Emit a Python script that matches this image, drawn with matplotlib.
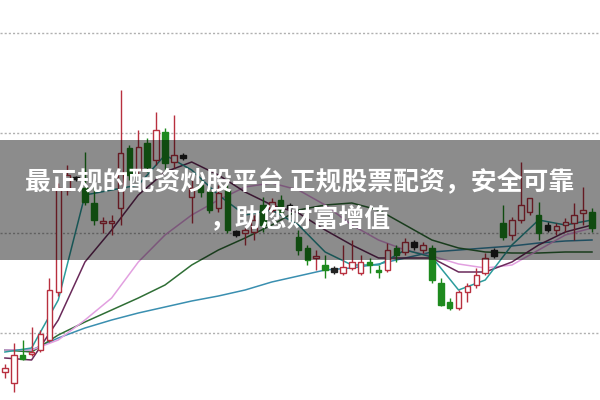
import matplotlib.pyplot as plt
import matplotlib.patches as mpatches

plt.rcParams['font.family'] = ['Noto Sans CJK SC', 'DejaVu Sans']

# K线数据 (开, 收, 高, 低)
opens = [2.8, 1.7, 4.5, 4.6, 5.0, 6.0, 10.8, 21.0, 22.1, 21.2, 19.7, 17.7, 17.7, 19.2,
         25.2, 23.0, 25.7, 24.0, 26.8, 23.8, 24.5, 20.3, 21.5, 20.8, 19.2, 21.0, 16.9,
         16.7, 16.8, 19.5, 19.0, 20.0, 19.5, 16.3, 15.2, 14.2, 13.5, 13.2, 12.7, 13.2,
         12.7, 13.8, 13.0, 13.0, 15.2, 14.8, 15.8, 15.0, 15.2, 11.7, 9.8, 9.2, 10.8,
         11.5, 12.7, 15.0, 17.7, 16.5, 18.0, 18.8, 18.5, 17.5, 17.0, 17.5, 17.7, 18.7, 18.8]
closes = [3.2, 4.5, 4.1, 4.8, 6.6, 11.0, 21.2, 22.5, 22.2, 19.8, 18.0, 17.9, 17.9, 24.7,
          22.5, 25.3, 23.3, 27.0, 23.7, 24.5, 24.2, 21.2, 20.8, 19.0, 20.7, 17.0, 16.5,
          17.0, 18.0, 17.5, 19.8, 18.8, 19.2, 15.0, 14.0, 14.4, 13.0, 12.8, 13.3, 13.8,
          13.8, 13.5, 12.8, 15.0, 14.5, 15.8, 15.3, 15.5, 12.0, 9.5, 9.2, 10.8, 11.4,
          12.5, 14.2, 14.4, 16.3, 18.0, 19.5, 20.2, 16.7, 17.0, 17.4, 17.8, 18.5, 19.0, 17.2]
highs = [3.6, 5.7, 6.0, 7.3, 7.0, 12.2, 21.7, 23.5, 22.4, 24.8, 21.5, 18.3, 18.5, 31.0,
         25.5, 27.0, 26.2, 28.8, 27.2, 28.5, 24.7, 22.0, 22.0, 21.5, 21.5, 21.5, 17.0,
         17.2, 18.5, 20.3, 20.2, 20.5, 19.7, 17.0, 15.5, 15.0, 14.5, 13.4, 15.5, 16.0,
         14.5, 14.2, 13.5, 15.7, 15.5, 16.2, 16.0, 15.8, 15.5, 12.2, 10.2, 11.0, 11.7,
         13.2, 14.7, 15.2, 19.5, 18.3, 23.8, 20.2, 19.8, 17.8, 17.7, 18.2, 19.7, 21.3, 19.2]
lows = [2.2, 0.8, 4.0, 4.4, 4.8, 5.8, 10.4, 20.5, 21.9, 19.5, 17.5, 16.7, 16.5, 17.5,
        22.0, 22.5, 22.8, 23.5, 23.0, 23.2, 24.0, 17.7, 20.3, 18.7, 18.8, 16.7, 16.3,
        15.5, 16.0, 16.8, 18.5, 18.5, 19.0, 14.5, 13.5, 13.0, 12.2, 12.6, 12.5, 13.0,
        12.5, 12.7, 12.2, 12.8, 13.8, 14.5, 15.0, 14.7, 11.7, 9.4, 9.0, 9.0, 9.8,
        11.2, 12.5, 14.2, 16.0, 16.0, 17.7, 18.5, 16.0, 16.8, 16.5, 16.8, 16.0, 17.5, 16.8]
dark_idx = [8, 20, 26, 32, 37, 46, 55, 61]

# 均线 (每3根K线取一点)
ma_x = list(range(0, 67, 3))
ma5 = [4.8, 5.2, 10.0, 20.5, 21.0, 21.5, 24.5, 23.0, 20.5, 18.5, 19.0, 17.5, 14.8, 13.5,
       13.5, 15.0, 14.3, 11.0, 12.0, 15.5, 18.0, 17.5, 18.0]
ma10 = [4.2, 4.0, 8.0, 13.8, 17.0, 20.5, 22.8, 23.8, 22.5, 20.8, 19.5, 18.7, 17.0, 15.5,
        14.2, 14.2, 14.2, 12.8, 12.8, 13.8, 15.5, 16.8, 17.5]
ma20 = [5.0, 5.0, 6.0, 8.0, 10.2, 13.8, 16.5, 18.5, 20.0, 21.3, 21.7, 21.0, 19.5, 17.5,
        16.0, 15.0, 14.4, 13.6, 13.2, 13.5, 15.0, 16.5, 17.2]
ma30 = [5.0, 4.8, 6.5, 7.8, 9.0, 10.2, 11.5, 13.5, 15.0, 16.2, 17.5, 19.0, 19.5, 19.7,
        19.0, 17.5, 16.0, 15.2, 14.8, 14.7, 14.7, 14.8, 14.8]
ma60 = [5.0, 5.0, 6.2, 7.2, 8.0, 8.7, 9.3, 9.9, 10.4, 11.0, 11.8, 12.4, 13.0, 13.2, 13.6,
        14.2, 14.8, 15.0, 15.2, 15.4, 15.7, 15.9, 16.0]

title_lines = ['最正规的配资炒股平台 正规股票配资，安全可靠', '，助您财富增值']

fig = plt.figure(figsize=(6, 4), dpi=100)
ax = fig.add_axes([0, 0, 1, 1])

for gy in [6.7, 16.7, 26.7, 36.7]:
    ax.axhline(gy, color='#b0b0b0', lw=1, ls=(0, (1.5, 1.5)), zorder=0)

ax.plot(ma_x, ma60, color='#3a8fb0', lw=1.1, zorder=1)
ax.plot(ma_x, ma30, color='#2f6e35', lw=1.1, zorder=1)
ax.plot(ma_x, ma20, color='#e2a0e0', lw=1.1, zorder=1)
ax.plot(ma_x, ma10, color='#6a2a5a', lw=1.1, zorder=1)
ax.plot(ma_x, ma5, color='#2c9c9c', lw=1.1, zorder=1)

w = 0.62
for i in range(len(opens)):
    o, c, h, l = opens[i], closes[i], highs[i], lows[i]
    if i in dark_idx:
        col = '#222222'
        fc = '#222222'
    elif c >= o:
        col = '#b8303f'
        fc = 'white'
    else:
        col = '#1e8a1e'
        fc = '#1e8a1e'
    ax.vlines(i, l, h, color=col, lw=1, zorder=2)
    ax.bar(i, max(abs(c - o), 0.25), bottom=min(o, c), width=w,
           color=fc, edgecolor=col, lw=1, zorder=3)

ax.set_xlim(-0.55, 66.9)
ax.set_ylim(0, 40)
ax.axis('off')

# 半透明横幅
ax.add_patch(mpatches.Rectangle((0, 0.35), 1, 0.3, transform=ax.transAxes,
                                color='black', alpha=0.45, zorder=5, lw=0))
fig.text(0.5, 0.543, title_lines[0], color='white', fontsize=18.6, fontweight='bold',
         ha='center', va='center', zorder=6)
fig.text(0.5, 0.45, title_lines[1], color='white', fontsize=18.6, fontweight='bold',
         ha='center', va='center', zorder=6)

fig.savefig('out.png', dpi=100)
